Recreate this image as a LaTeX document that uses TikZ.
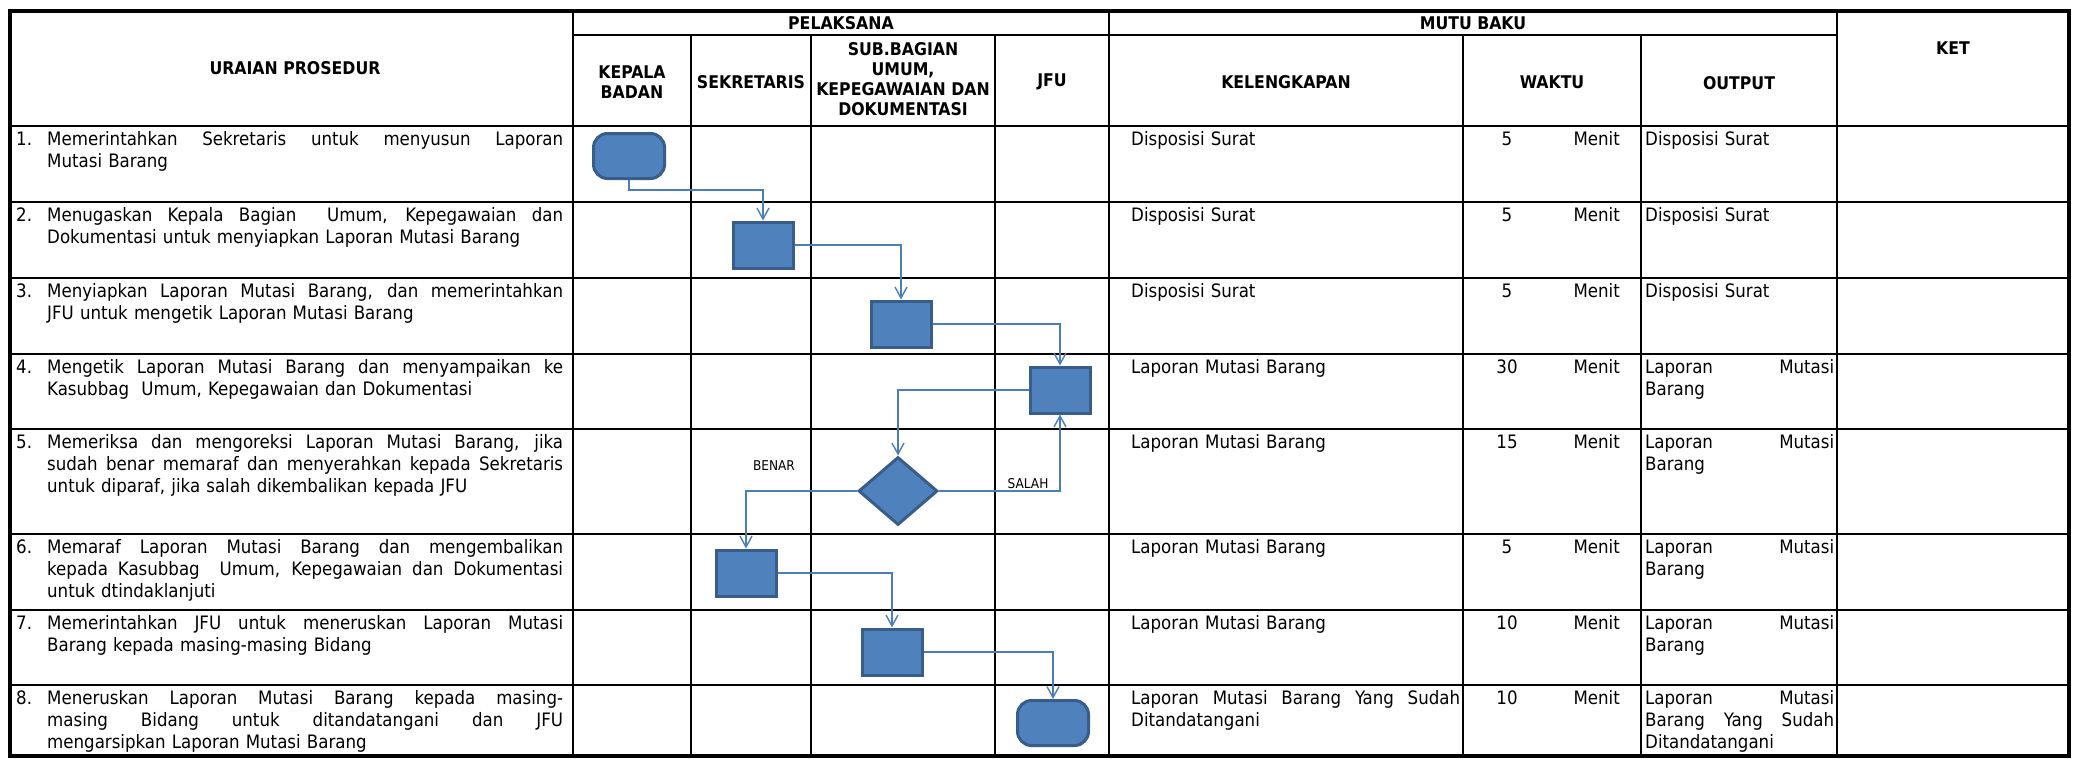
\documentclass[tikz,border=0pt]{standalone}
\usepackage{fontspec}
\setmainfont{DejaVuSansCondensed}[Extension=.ttf,BoldFont=DejaVuSansCondensed-Bold]
\usetikzlibrary{
  shapes,
  shapes.geometric,
  arrows.meta,
  calc,
}
\definecolor{boxfill}{HTML}{4F81BD}
\definecolor{boxline}{HTML}{385D8A}
\definecolor{flowline}{HTML}{4A7EBB}
\newcommand\jl[1]{\noindent\strut\hbox to \hsize{\spaceskip=0pt\xspaceskip=0pt #1}\\}

\tikzset{
  tabline/.style={line width=2.2pt},
  cell/.style={inner sep=0pt, anchor=north west, align=left,
      font=\fontsize{18.5}{22}\selectfont},
  headtxt/.style={inner sep=0pt, align=center, font=\fontsize{17.5}{20}\selectfont\bfseries},
  proc/.style={draw=boxline, fill=boxfill, line width=3pt, minimum width=60pt,
      minimum height=46pt, inner sep=0pt},
  term/.style={proc, rounded corners=14pt, minimum width=71pt, minimum height=45pt},
  decide/.style={proc, diamond, minimum width=79pt, minimum height=68pt},
  flow/.style={draw=flowline, line width=1.4pt, -{Straight Barb[length=11pt,width=12pt]}},
  lbl/.style={inner sep=0pt, font=\fontsize{13.5}{15}\selectfont},
}

\begin{document}
\begin{tikzpicture}[x=1pt,y=-1pt]
  \useasboundingbox (0,0) rectangle (2075,758);

  \draw[line width=4.5pt] (10,11) rectangle (2069,756);
  \foreach \X in {573,1109,1837}{
      \draw[tabline] (\X,11) -- (\X,756);
    }
  \foreach \X in {691,811,995,1463,1641}{
      \draw[tabline] (\X,35) -- (\X,756);
    }
  \draw[tabline] (573,35) -- (1837,35);
  \foreach \Y in {126,202,278,354,429,534,610,685}{
      \draw[tabline] (10,\Y) -- (2069,\Y);
    }

  \node[headtxt] (hUraian) at (295,68) {URAIAN PROSEDUR};
  \node[headtxt] (hPelaksana) at (841,23) {PELAKSANA};
  \node[headtxt] (hMutu) at (1473,23) {MUTU BAKU};
  \node[headtxt] (hKet) at (1953,48) {KET};
  \node[headtxt] (hKepala) at (632,82) {KEPALA\\BADAN};
  \node[headtxt] (hSekr) at (751,82) {SEKRETARIS};
  \node[headtxt] (hSub) at (903,79) {SUB.BAGIAN\\UMUM,\\KEPEGAWAIAN DAN\\DOKUMENTASI};
  \node[headtxt] (hJfu) at (1052,82) {JFU};
  \node[headtxt] (hKel) at (1286,82) {KELENGKAPAN};
  \node[headtxt] (hWaktu) at (1552,82) {WAKTU};
  \node[headtxt] (hOutput) at (1739,83) {OUTPUT};

  \foreach \n/\ry/\txt in {
      1/126/{\jl{Memerintahkan Sekretaris untuk menyusun Laporan}Mutasi Barang},
      2/202/{\jl{Menugaskan Kepala Bagian\ \ Umum, Kepegawaian dan}Dokumentasi untuk menyiapkan Laporan Mutasi Barang},
      3/278/{\jl{Menyiapkan Laporan Mutasi Barang, dan memerintahkan}JFU untuk mengetik Laporan Mutasi Barang},
      4/354/{\jl{Mengetik Laporan Mutasi Barang dan menyampaikan ke}Kasubbag\ \ Umum, Kepegawaian dan Dokumentasi},
      5/429/{\jl{Memeriksa dan mengoreksi Laporan Mutasi Barang, jika}\jl{sudah benar memaraf dan menyerahkan kepada Sekretaris}untuk diparaf, jika salah dikembalikan kepada JFU},
      6/534/{\jl{Memaraf Laporan Mutasi Barang dan mengembalikan}\jl{kepada Kasubbag\ \ Umum, Kepegawaian dan Dokumentasi}untuk dtindaklanjuti},
      7/610/{\jl{Memerintahkan JFU untuk meneruskan Laporan Mutasi}Barang kepada masing-masing Bidang},
      8/685/{\jl{Meneruskan Laporan Mutasi Barang kepada masing-}\jl{masing Bidang untuk ditandatangani dan JFU}mengarsipkan Laporan Mutasi Barang}
    }{
      \node[cell] (num\n) at (16,\ry+4) {\strut\n.};
      \node[cell,text width=516pt] (uraian\n) at (47,\ry+4) {\noindent\strut\txt};
    }

  \foreach \n/\ry/\kel/\w/\out in {
      1/126/{Disposisi Surat}/5/{Disposisi Surat},
      2/202/{Disposisi Surat}/5/{Disposisi Surat},
      3/278/{Disposisi Surat}/5/{Disposisi Surat},
      4/354/{Laporan Mutasi Barang}/30/{\jl{Laporan Mutasi}Barang},
      5/429/{Laporan Mutasi Barang}/15/{\jl{Laporan Mutasi}Barang},
      6/534/{Laporan Mutasi Barang}/5/{\jl{Laporan Mutasi}Barang},
      7/610/{Laporan Mutasi Barang}/10/{\jl{Laporan Mutasi}Barang},
      8/685/{\jl{Laporan Mutasi Barang Yang Sudah}Ditandatangani}/10/{\jl{Laporan Mutasi}\jl{Barang Yang Sudah}Ditandatangani}
    }{
      \node[cell,text width=329pt] (kel\n) at (1131,\ry+4) {\noindent\strut\kel};
      \node[cell,anchor=north] (waktu\n) at (1507,\ry+4) {\strut\w};
      \node[cell,anchor=north east] (menit\n) at (1620,\ry+4) {\strut Menit};
      \node[cell,text width=189pt] (out\n) at (1645,\ry+4) {\noindent\strut\out};
    }

  \node[term] (kb1) at (629,156) {};
  \node[proc] (sk2) at (763,245) {};
  \node[proc] (sb3) at (901,324) {};
  \node[proc] (jf4) at (1060,390) {};
  \node[decide] (cek5) at (898,491) {};
  \node[proc] (sk6) at (746,573) {};
  \node[proc] (sb7) at (892,652) {};
  \node[term] (jf8) at (1053,723) {};

  \draw[flow] (kb1.south) -- ++(0,10) -| (sk2.north);
  \draw[flow] (sk2.east) -| (sb3.north);
  \draw[flow] (sb3.east) -| (jf4.north);
  \draw[flow] (jf4.west) -| (cek5.north);
  \draw[flow] (cek5.east) -| (jf4.south);
  \draw[flow] (cek5.west) -| (sk6.north);
  \draw[flow] (sk6.east) -| (sb7.north);
  \draw[flow] (sb7.east) -| (jf8.north);

  \node[lbl] (benar) at (774,466) {BENAR};
  \node[lbl] (salah) at (1028,484) {SALAH};
\end{tikzpicture}
\end{document}
